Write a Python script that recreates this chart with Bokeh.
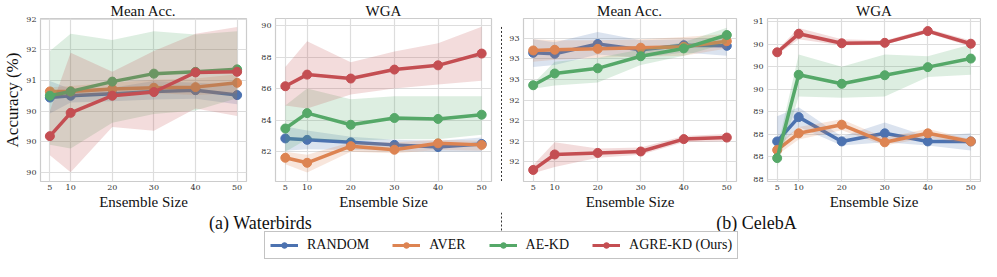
from bokeh.plotting import figure
from bokeh.layouts import row, column
from bokeh.models import Range1d, FixedTicker, Label, Legend, LegendItem
from bokeh.embed import file_html
from bokeh.resources import INLINE

# ---------------- data ----------------
ENSEMBLE_SIZES = [5, 10, 20, 30, 40, 50]
METHODS = ["RANDOM", "AVER", "AE-KD", "AGRE-KD (Ours)"]
COLORS = ["#4C72B0", "#DD8452", "#55A868", "#C44E52"]

# Waterbirds - Mean Acc.
WB_MEAN_RANDOM = [90.72, 90.75, 90.78, 90.82, 90.84, 90.76]
WB_MEAN_RANDOM_LO = [90.46, 90.64, 90.66, 90.69, 90.70, 90.61]
WB_MEAN_RANDOM_HI = [90.99, 90.86, 90.88, 90.99, 90.96, 90.93]
WB_MEAN_AVER = [90.82, 90.82, 90.86, 90.88, 90.89, 90.96]
WB_MEAN_AVER_LO = [90.75, 90.74, 90.77, 90.79, 90.76, 90.79]
WB_MEAN_AVER_HI = [90.89, 90.91, 90.96, 91.01, 91.03, 91.10]
WB_MEAN_AEKD = [90.75, 90.82, 90.98, 91.11, 91.14, 91.18]
WB_MEAN_AEKD_LO = [89.95, 89.89, 90.31, 90.45, 90.51, 90.71]
WB_MEAN_AEKD_HI = [91.48, 91.76, 91.66, 91.80, 91.75, 91.80]
WB_MEAN_AGRE = [90.09, 90.47, 90.75, 90.81, 91.13, 91.14]
WB_MEAN_AGRE_LO = [89.78, 89.50, 90.24, 90.18, 90.54, 90.42]
WB_MEAN_AGRE_HI = [90.50, 91.45, 91.14, 91.48, 91.76, 91.87]

# Waterbirds - WGA
WB_WGA_RANDOM = [82.84, 82.75, 82.59, 82.43, 82.29, 82.49]
WB_WGA_RANDOM_LO = [82.05, 82.15, 82.10, 82.05, 82.00, 82.00]
WB_WGA_RANDOM_HI = [83.60, 83.35, 82.95, 82.75, 82.70, 82.90]
WB_WGA_AVER = [81.61, 81.29, 82.35, 82.12, 82.53, 82.43]
WB_WGA_AVER_LO = [81.20, 80.67, 82.00, 81.90, 82.10, 82.05]
WB_WGA_AVER_HI = [82.00, 81.80, 82.60, 82.60, 82.75, 82.70]
WB_WGA_AEKD = [83.47, 84.45, 83.71, 84.14, 84.08, 84.35]
WB_WGA_AEKD_LO = [82.00, 82.78, 82.69, 82.78, 82.78, 83.08]
WB_WGA_AEKD_HI = [84.94, 86.02, 85.33, 85.53, 85.53, 85.53]
WB_WGA_AGRE = [86.16, 86.90, 86.65, 87.22, 87.49, 88.24]
WB_WGA_AGRE_LO = [84.94, 84.75, 85.63, 86.02, 86.27, 86.51]
WB_WGA_AGRE_HI = [87.39, 89.02, 87.69, 88.37, 88.90, 89.94]

# CelebA - Mean Acc.
CA_MEAN_RANDOM = [92.857, 92.848, 92.943, 92.887, 92.931, 92.925]
CA_MEAN_RANDOM_LO = [92.72, 92.74, 92.84, 92.81, 92.86, 92.83]
CA_MEAN_RANDOM_HI = [92.99, 92.96, 93.06, 92.98, 92.99, 93.00]
CA_MEAN_AVER = [92.880, 92.887, 92.896, 92.907, 92.916, 92.970]
CA_MEAN_AVER_LO = [92.77, 92.79, 92.81, 92.82, 92.83, 92.90]
CA_MEAN_AVER_HI = [92.99, 92.98, 92.98, 92.99, 93.01, 93.04]
CA_MEAN_AEKD = [92.543, 92.657, 92.707, 92.824, 92.900, 93.030]
CA_MEAN_AEKD_LO = [92.51, 92.54, 92.57, 92.74, 92.83, 92.95]
CA_MEAN_AEKD_HI = [92.56, 92.77, 92.81, 92.89, 92.96, 93.10]
CA_MEAN_AGRE = [91.722, 91.872, 91.887, 91.901, 92.021, 92.036]
CA_MEAN_AGRE_LO = [91.69, 91.75, 91.84, 91.87, 91.99, 92.00]
CA_MEAN_AGRE_HI = [91.77, 91.99, 91.93, 91.94, 92.05, 92.07]

# CelebA - WGA
CA_WGA_RANDOM = [88.34, 88.88, 88.34, 88.52, 88.34, 88.34]
CA_WGA_RANDOM_LO = [88.18, 88.66, 88.25, 88.32, 88.25, 88.14]
CA_WGA_RANDOM_HI = [88.90, 89.10, 88.45, 88.76, 88.45, 88.52]
CA_WGA_AVER = [88.15, 88.52, 88.71, 88.32, 88.52, 88.34]
CA_WGA_AVER_LO = [88.04, 88.38, 88.59, 88.25, 88.42, 88.28]
CA_WGA_AVER_HI = [88.28, 88.66, 88.83, 88.42, 88.62, 88.38]
CA_WGA_AEKD = [87.97, 89.82, 89.62, 89.81, 89.99, 90.18]
CA_WGA_AEKD_LO = [87.77, 89.34, 89.31, 89.34, 89.77, 89.82]
CA_WGA_AEKD_HI = [88.18, 90.27, 90.00, 90.27, 90.23, 90.49]
CA_WGA_AGRE = [90.32, 90.73, 90.52, 90.53, 90.79, 90.51]
CA_WGA_AGRE_LO = [90.27, 90.61, 90.47, 90.49, 90.75, 90.44]
CA_WGA_AGRE_HI = [90.37, 90.86, 90.61, 90.58, 90.84, 90.58]

# axis ticks and their (rounded) labels as printed in the figure
X_TICKS = [5, 10, 20, 30, 40, 50]
WB_MEAN_TICKS = [89.5, 90.0, 90.5, 91.0, 91.5, 92.0]
WB_MEAN_LABELS = ["90", "90", "90", "91", "92", "92"]
WB_WGA_TICKS = [82, 84, 86, 88, 90]
WB_WGA_LABELS = ["82", "84", "86", "88", "90"]
CA_MEAN_TICKS = [91.8, 92.0, 92.2, 92.4, 92.6, 92.8, 93.0]
CA_MEAN_LABELS = ["92", "92", "92", "92", "93", "93", "93"]
CA_WGA_TICKS = [87.5, 88.0, 88.5, 89.0, 89.5, 90.0, 90.5, 91.0]
CA_WGA_LABELS = ["88", "88", "88", "89", "90", "90", "90", "91"]

TITLES = ["Mean Acc.", "WGA", "Mean Acc.", "WGA"]
CAPTIONS = ["(a) Waterbirds", "(b) CelebA"]

PANELS = [
    dict(series=[(WB_MEAN_RANDOM, WB_MEAN_RANDOM_LO, WB_MEAN_RANDOM_HI),
                 (WB_MEAN_AVER, WB_MEAN_AVER_LO, WB_MEAN_AVER_HI),
                 (WB_MEAN_AEKD, WB_MEAN_AEKD_LO, WB_MEAN_AEKD_HI),
                 (WB_MEAN_AGRE, WB_MEAN_AGRE_LO, WB_MEAN_AGRE_HI)],
         ticks=WB_MEAN_TICKS, labels=WB_MEAN_LABELS, yr=(89.35, 92.01)),
    dict(series=[(WB_WGA_RANDOM, WB_WGA_RANDOM_LO, WB_WGA_RANDOM_HI),
                 (WB_WGA_AVER, WB_WGA_AVER_LO, WB_WGA_AVER_HI),
                 (WB_WGA_AEKD, WB_WGA_AEKD_LO, WB_WGA_AEKD_HI),
                 (WB_WGA_AGRE, WB_WGA_AGRE_LO, WB_WGA_AGRE_HI)],
         ticks=WB_WGA_TICKS, labels=WB_WGA_LABELS, yr=(80.1, 90.47)),
    dict(series=[(CA_MEAN_RANDOM, CA_MEAN_RANDOM_LO, CA_MEAN_RANDOM_HI),
                 (CA_MEAN_AVER, CA_MEAN_AVER_LO, CA_MEAN_AVER_HI),
                 (CA_MEAN_AEKD, CA_MEAN_AEKD_LO, CA_MEAN_AEKD_HI),
                 (CA_MEAN_AGRE, CA_MEAN_AGRE_LO, CA_MEAN_AGRE_HI)],
         ticks=CA_MEAN_TICKS, labels=CA_MEAN_LABELS, yr=(91.61, 93.19)),
    dict(series=[(CA_WGA_RANDOM, CA_WGA_RANDOM_LO, CA_WGA_RANDOM_HI),
                 (CA_WGA_AVER, CA_WGA_AVER_LO, CA_WGA_AVER_HI),
                 (CA_WGA_AEKD, CA_WGA_AEKD_LO, CA_WGA_AEKD_HI),
                 (CA_WGA_AGRE, CA_WGA_AGRE_LO, CA_WGA_AGRE_HI)],
         ticks=CA_WGA_TICKS, labels=CA_WGA_LABELS, yr=(87.45, 91.07)),
]

# ---------------- layout ----------------
TOP_H = 212
BOTTOM_H = 49
SERIF = "Liberation Serif"
TICK_FONT = "DejaVu Serif"
GRID = "#dddddd"
NAN = float("nan")

# (width, left border, right border) for each panel
GEOM = [(258, 32, 12), (238, 17, 5), (244, 14, 14), (231, 13, 1)]
SEP_W = 10


def make_panel(i):
    spec = PANELS[i]
    w, bl, br = GEOM[i]
    p = figure(width=w, height=TOP_H, output_backend="svg", toolbar_location=None,
               x_range=Range1d(2.75, 52.25), y_range=Range1d(*spec["yr"]),
               min_border_left=bl, min_border_right=br,
               min_border_top=16, min_border_bottom=28)
    p.title.text = TITLES[i]
    p.title.text_font = SERIF
    p.title.text_font_size = "15px"
    p.title.text_font_style = "normal"
    p.title.align = "center"
    p.title.standoff = 0
    p.title.offset = 0
    p.title.text_color = "#111111"
    p.outline_line_color = "#cccccc"
    p.outline_line_width = 1.2
    p.background_fill_color = "white"
    p.border_fill_color = "white"

    for (m, lo, hi), c in zip(spec["series"], COLORS):
        p.varea(x=ENSEMBLE_SIZES, y1=lo, y2=hi, fill_color=c, fill_alpha=0.2)
        p.line(x=ENSEMBLE_SIZES, y=m, line_color=c, line_width=3.5)
        p.scatter(x=ENSEMBLE_SIZES, y=m, size=9, fill_color=c, line_color=c)

    for ax in (p.xaxis[0], p.yaxis[0]):
        ax.axis_line_color = None
        ax.major_tick_line_color = None
        ax.minor_tick_line_color = None
        ax.major_tick_out = 0
        ax.major_tick_in = 0
        ax.minor_tick_out = 0
        ax.minor_tick_in = 0
        ax.major_label_text_font = TICK_FONT
        ax.major_label_text_font_size = "8px"
        ax.major_label_text_color = "#333333"
    p.xaxis.ticker = FixedTicker(ticks=X_TICKS)
    p.yaxis.ticker = FixedTicker(ticks=spec["ticks"])
    p.yaxis.major_label_overrides = {t: l for t, l in zip(spec["ticks"], spec["labels"])}
    p.xaxis.major_label_standoff = 3
    p.yaxis.major_label_standoff = 4
    p.xaxis.axis_label = "Ensemble Size"
    p.xaxis.axis_label_text_font = SERIF
    p.xaxis.axis_label_text_font_size = "15px"
    p.xaxis.axis_label_text_font_style = "normal"
    p.xaxis.axis_label_standoff = 1
    p.xaxis.axis_label_text_color = "#111111"
    if i == 0:
        p.yaxis.axis_label = "Accuracy (%)"
        p.yaxis.axis_label_text_font = SERIF
        p.yaxis.axis_label_text_font_size = "17px"
        p.yaxis.axis_label_text_font_style = "normal"
        p.yaxis.axis_label_standoff = 1
        p.yaxis.axis_label_text_color = "#111111"
    p.xgrid.grid_line_color = GRID
    p.ygrid.grid_line_color = GRID
    p.xgrid.grid_line_width = 1.2
    p.ygrid.grid_line_width = 1.2
    return p


panels = [make_panel(i) for i in range(4)]

# thin separator strip holding the dashed divider
sep = figure(width=SEP_W, height=TOP_H, output_backend="svg", toolbar_location=None,
             x_range=Range1d(0, SEP_W), y_range=Range1d(0, TOP_H),
             min_border=0, outline_line_color=None)
sep.axis.visible = False
sep.grid.visible = False
sep.segment(x0=[SEP_W / 2], y0=[TOP_H - 11], x1=[SEP_W / 2], y1=[0], line_color="#333333",
            line_width=1, line_dash="2 2")

top = row(panels[0], panels[1], sep, panels[2], panels[3])

# bottom strip: captions + legend
TOTAL_W = sum(g[0] for g in GEOM) + SEP_W
bot = figure(width=TOTAL_W, height=BOTTOM_H, output_backend="svg", toolbar_location=None,
             x_range=Range1d(0, TOTAL_W), y_range=Range1d(0, BOTTOM_H),
             min_border=0, outline_line_color=None)
bot.axis.visible = False
bot.grid.visible = False
sep_x = GEOM[0][0] + GEOM[1][0] + SEP_W / 2
bot.segment(x0=[sep_x], y0=[BOTTOM_H], x1=[sep_x], y1=[BOTTOM_H - 20],
            line_color="#333333", line_width=1, line_dash="2 2")
cap_x = [260, 756]
for cx, txt in zip(cap_x, CAPTIONS):
    bot.add_layout(Label(x=cx, y=BOTTOM_H - 10, x_units="screen", y_units="screen",
                         text=txt, text_font=SERIF, text_font_size="18px",
                         text_align="center", text_baseline="middle",
                         text_color="#111111"))

items = []
for name, c in zip(METHODS, COLORS):
    rl = bot.line(x=[NAN], y=[NAN], line_color=c, line_width=3)
    rs = bot.scatter(x=[NAN], y=[NAN], size=5, fill_color=c, line_color=c)
    items.append(LegendItem(label=name, renderers=[rl, rs]))
legend = Legend(items=items, orientation="horizontal", location=(264, 2),
                label_text_font=SERIF, label_text_font_size="14px",
                label_text_color="#111111", glyph_width=28, glyph_height=14,
                label_standoff=9, spacing=23, padding=5, margin=0,
                border_line_color="#888888", border_line_width=1,
                background_fill_alpha=1.0, label_height=14)
bot.add_layout(legend)

layout = column(top, bot)

open("out.html", "w").write(file_html(layout, INLINE))
